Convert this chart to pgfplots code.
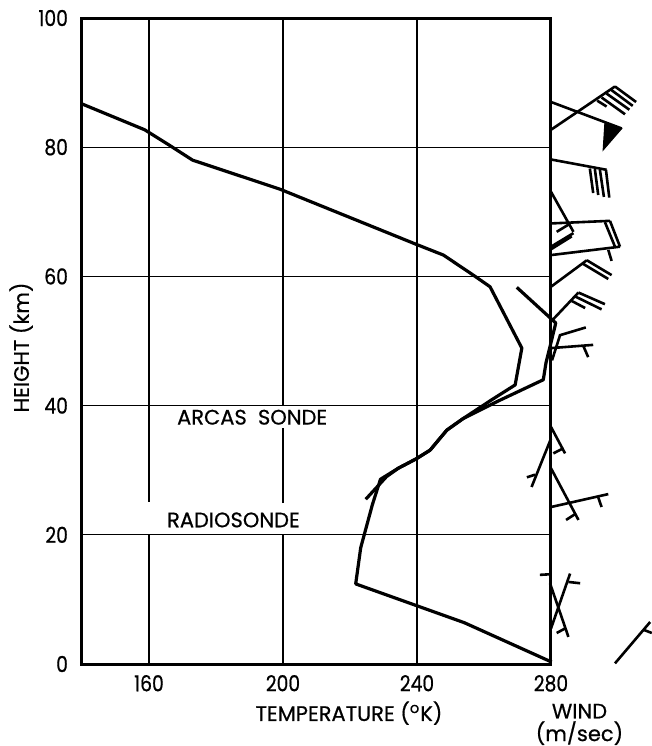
\documentclass[border=0pt]{standalone}
\usepackage{fontspec}
\setmainfont{Poppins}[FakeBold=0.6]
\newfontfamily\tickfont{Poppins}[FakeStretch=0.85, FakeBold=0.6]
\usepackage{pgfplots}
\pgfplotsset{compat=1.18}
\newcommand{\lbl}{\fontsize{10.5}{12}\selectfont}
\begin{document}
\begin{tikzpicture}
\path[use as bounding box] (-41pt,-41pt) rectangle (285pt,332pt);
\begin{axis}[
  width=234.5pt, height=323pt, scale only axis,
  xmin=140, xmax=280, ymin=0, ymax=100,
  xtick={160,200,240,280}, ytick={0,20,40,60,80,100},
  major tick length=0pt,
  axis line style={line width=1.5pt},
  ymajorgrids, grid style={line width=0.5pt, black},
  clip=false,
  tick label style={font=\tickfont\fontsize{11}{12}\selectfont},
  /pgf/number format/assume math mode=true,
  xticklabel style={yshift=-2pt},
  yticklabel style={xshift=-3.5pt},
  vg/.style={line width=1.4pt, black},
  curve/.style={line width=1.6pt, black, line join=round},
  barb/.style={line width=1.3pt, black},
]
% vertical grid lines (interrupted by labels)
\addplot[vg] coordinates {(160,0) (160,20.1)};
\addplot[vg] coordinates {(160,25.1) (160,100)};
\addplot[vg] coordinates {(200,0) (200,20.0)};
\addplot[vg] coordinates {(200,24.9) (200,36.5)};
\addplot[vg] coordinates {(200,40.1) (200,100)};
\addplot[vg] coordinates {(240,0) (240,100)};
% ARCAS sonde
\addplot[curve] coordinates {
(140,86.7) (158.7,82.7) (165.5,80.5) (173,78.0) (199.1,73.5) (239.6,65.0)
(247.9,63.3) (256.8,60.2) (261.8,58.4) (271.3,48.9) (269.3,43.2) (262.3,40.9)
(253.8,38.0) (248.9,36.2) (243.9,33.1) (239.9,31.8) (234.4,30.3) (230.9,29.0)
(224.7,25.5)};
% Radiosonde and upper sounding
\addplot[curve] coordinates {
(280.2,0.3) (254.1,6.4) (221.7,12.4) (223.2,18.0) (226.7,24.7) (229.1,28.6)
(234.4,30.3) (239.9,31.8) (243.9,33.1) (248.9,36.2) (253.8,38.0) (263.8,40.6)
(277.7,44.0) (278.5,46.6) (279.5,48.7) (281.2,52.3) (281.4,52.8) (269.8,58.3)};
% wind barbs
\addplot[barb] coordinates {(280,87.0) (301.1,82.9)};
\addplot[fill=black, draw=black, line width=0.6pt] coordinates {(296.1,83.7) (301.1,82.9) (295.6,79.6)} -- cycle;
\addplot[barb] coordinates {(280,82.7) (299.1,89.4)};
\addplot[barb] coordinates {(299.1,89.4) (305.4,87.0)};
\addplot[barb] coordinates {(297.9,88.9) (304.4,86.4)};
\addplot[barb] coordinates {(296.6,88.3) (303.4,85.8)};
\addplot[barb] coordinates {(295.1,87.7) (302.1,85.1)};
\addplot[barb] coordinates {(293.8,87.2) (296.6,86.3)};
\addplot[barb] coordinates {(280,78.1) (296.6,76.5)};
\addplot[barb] coordinates {(291.6,76.7) (292.6,72.9)};
\addplot[barb] coordinates {(293.1,76.6) (294.1,72.6)};
\addplot[barb] coordinates {(294.6,76.5) (295.8,72.3)};
\addplot[barb] coordinates {(296.4,76.5) (297.4,72.2)};
\addplot[barb] coordinates {(280,73.1) (286.7,66.9)};
\addplot[barb] coordinates {(280,64.6) (286.7,66.7)};
\addplot[barb] coordinates {(279.7,64.1) (286.2,66.2)};
\addplot[barb] coordinates {(281.7,66.9) (285.5,68.1)};
\addplot[barb] coordinates {(280,68.2) (297.6,68.6)};
\addplot[barb] coordinates {(296.1,68.4) (299.1,64.6)};
\addplot[barb] coordinates {(297.6,68.6) (300.6,64.6)};
\addplot[barb] coordinates {(280,63.3) (300.6,64.6)};
\addplot[barb] coordinates {(297.1,64.1) (298.1,62.4)};
\addplot[barb] coordinates {(280,58.4) (290.7,62.5)};
\addplot[barb] coordinates {(290.7,62.5) (298.1,60.2)};
\addplot[barb] coordinates {(289.4,62.0) (297.1,59.6)};
\addplot[barb] coordinates {(280,53.0) (288.2,57.5)};
\addplot[barb] coordinates {(288.2,57.5) (296.1,55.7)};
\addplot[barb] coordinates {(287.2,56.9) (295.1,54.9)};
\addplot[barb] coordinates {(286.2,56.2) (290.2,55.1)};
\addplot[barb] coordinates {(280.3,47.0) (282.7,50.9) (290.4,52.1)};
\addplot[barb] coordinates {(280,48.9) (292.6,49.4)};
\addplot[barb] coordinates {(289.6,49.3) (291.1,47.5)};
\addplot[barb] coordinates {(280,36.7) (284.2,32.6)};
\addplot[barb] coordinates {(280.7,32.6) (283.7,33.4)};
\addplot[barb] coordinates {(280,34.9) (274.2,27.4)};
\addplot[barb] coordinates {(275.2,29.3) (272.8,28.9)};
\addplot[barb] coordinates {(280,30.3) (288.2,22.3)};
\addplot[barb] coordinates {(287.2,23.2) (284.5,22.3)};
\addplot[barb] coordinates {(280,24.3) (297.1,26.3)};
\addplot[barb] coordinates {(294.1,25.8) (295.1,24.3)};
\addplot[barb] coordinates {(276.7,13.8) (280,13.9)};
\addplot[barb] coordinates {(279.7,12.5) (285.2,4.2)};
\addplot[barb] coordinates {(281.7,4.8) (284.2,5.5)};
\addplot[barb] coordinates {(280,5.5) (285.7,14.0)};
\addplot[barb] coordinates {(285.2,12.7) (288.7,12.5)};
\addplot[barb] coordinates {(299.1,0.1) (309.6,6.5)};
\addplot[barb] coordinates {(307.6,5.3) (310.1,4.8)};
% labels
\node[anchor=west, font=\lbl] at (axis cs:166.3,38.2) {ARCAS\ \ SONDE};
\node[anchor=west, font=\lbl] at (axis cs:163.3,22.3) {RADIOSONDE};
\node[rotate=90, font=\lbl] at (axis cs:121.8,49) {HEIGHT (km)};
\node[font=\lbl] at (axis cs:219.7,-7.6) {TEMPERATURE (\textsuperscript{o}K)};
\node[font=\lbl] at (axis cs:288.5,-7.3) {WIND};
\node[font=\lbl] at (axis cs:288.5,-10.7) {(m/sec)};
\end{axis}
\end{tikzpicture}
\end{document}
